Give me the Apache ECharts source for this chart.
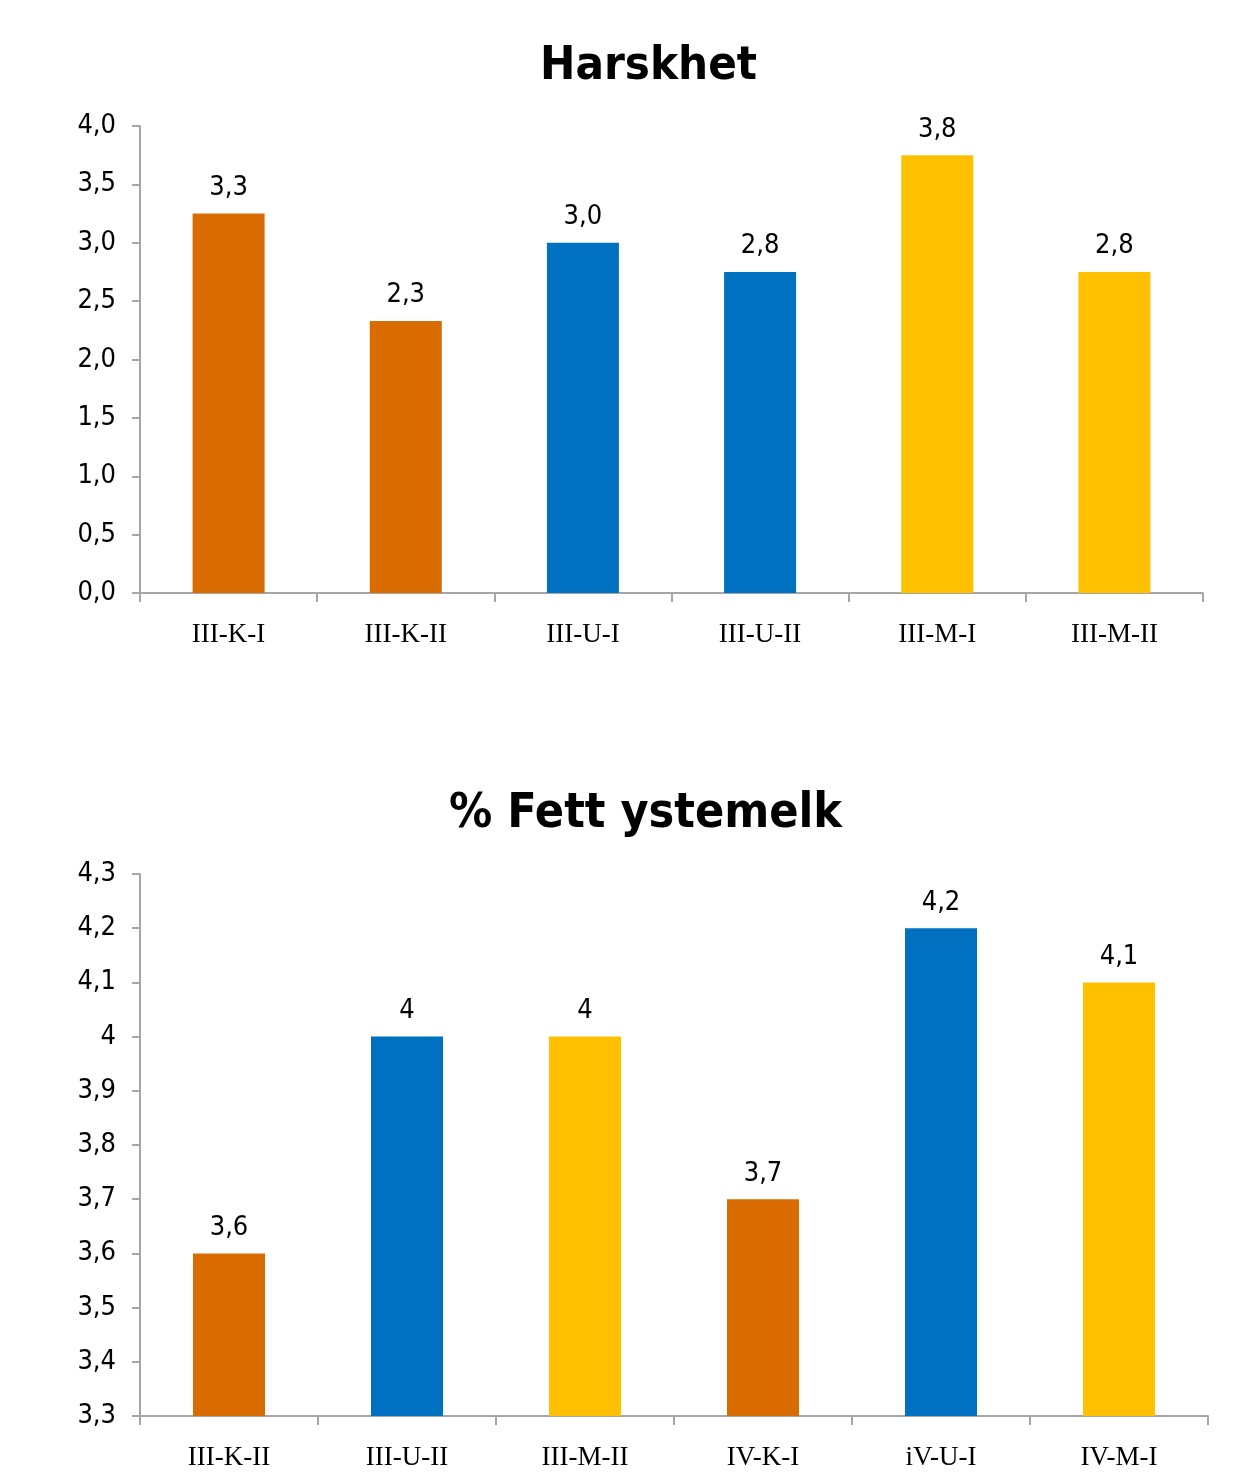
<!DOCTYPE html>
<html>
<head>
<meta charset="utf-8">
<script src="https://cdn.jsdelivr.net/npm/echarts@6/dist/echarts.min.js"></script>
<style>
  html, body { margin: 0; padding: 0; background: #fff; }
  #chart { width: 1241px; height: 1482px; }
</style>
</head>
<body>
<div id="chart"></div>
<script>
// Harskhet (rancidity score) per sample
const harskCategories = ['III-K-I', 'III-K-II', 'III-U-I', 'III-U-II', 'III-M-I', 'III-M-II'];
const harskValues = [3.25, 2.33, 3.0, 2.75, 3.75, 2.75];
const harskTicks = { min: 0, max: 4, interval: 0.5 };

// % fat in cheese milk per sample
const fettCategories = ['III-K-II', 'III-U-II', 'III-M-II', 'IV-K-I', 'iV-U-I', 'IV-M-I'];
const fettValues = [3.6, 4.0, 4.0, 3.7, 4.2, 4.1];
const fettTicks = { min: 3.3, max: 4.3, interval: 0.1 };

// Bar colour follows the middle letter of the sample code
const groupColors = { K: '#D86C00', U: '#0070C0', M: '#FFC000' };
const colorOf = name => groupColors[name.split('-')[1].toUpperCase()];

const numFont = "'DejaVu Sans Condensed', 'DejaVu Sans', sans-serif";
const titleFont = "'DejaVu Sans Condensed', 'DejaVu Sans', sans-serif";
const catFont = "'Liberation Serif', 'Times New Roman', serif";
const axisGray = '#A6A6A6';

const fixed1 = v => v.toFixed(1).replace('.', ',');
const general = v => String(Math.round(v * 10) / 10).replace('.', ',');

function xAxis(gridIndex, cats) {
  return {
    type: 'category', gridIndex, data: cats,
    axisLine: { lineStyle: { color: axisGray, width: 2 } },
    axisTick: { show: true, length: 9, lineStyle: { color: axisGray, width: 2 } },
    axisLabel: { color: '#000', fontFamily: catFont, fontSize: 27, margin: 28 }
  };
}
function yAxis(gridIndex, t, fmt) {
  return {
    type: 'value', gridIndex, min: t.min, max: t.max, interval: t.interval,
    axisLine: { show: true, lineStyle: { color: axisGray, width: 2 } },
    axisTick: { show: true, length: 8, lineStyle: { color: axisGray, width: 2 } },
    splitLine: { show: false },
    axisLabel: { color: '#000', fontFamily: numFont, fontSize: 27, margin: 24, formatter: fmt }
  };
}
function barSeries(idx, cats, vals, fmt) {
  return {
    type: 'bar', xAxisIndex: idx, yAxisIndex: idx, barWidth: 72,
    data: vals.map((v, i) => ({ value: v, itemStyle: { color: colorOf(cats[i]) } })),
    label: {
      show: true, position: 'top', distance: 12, color: '#000',
      fontFamily: numFont, fontSize: 27,
      formatter: p => fmt(p.value)
    }
  };
}

const chart = echarts.init(document.getElementById('chart'), null, { renderer: 'canvas' });
chart.setOption({
  animation: false,
  backgroundColor: '#fff',
  title: [
    { text: 'Harskhet', left: 535, top: 38,
      textStyle: { fontFamily: titleFont, fontWeight: 'bold', fontSize: 47, color: '#000' } },
    { text: '% Fett ystemelk', left: 444, top: 786,
      textStyle: { fontFamily: titleFont, fontWeight: 'bold', fontSize: 48, color: '#000' } }
  ],
  grid: [
    { left: 140, right: 38, top: 126, height: 467, containLabel: false },
    { left: 140, right: 33, top: 874, height: 542, containLabel: false }
  ],
  xAxis: [xAxis(0, harskCategories), xAxis(1, fettCategories)],
  yAxis: [yAxis(0, harskTicks, fixed1), yAxis(1, fettTicks, general)],
  series: [
    barSeries(0, harskCategories, harskValues, fixed1),
    barSeries(1, fettCategories, fettValues, general)
  ]
});
</script>
</body>
</html>
